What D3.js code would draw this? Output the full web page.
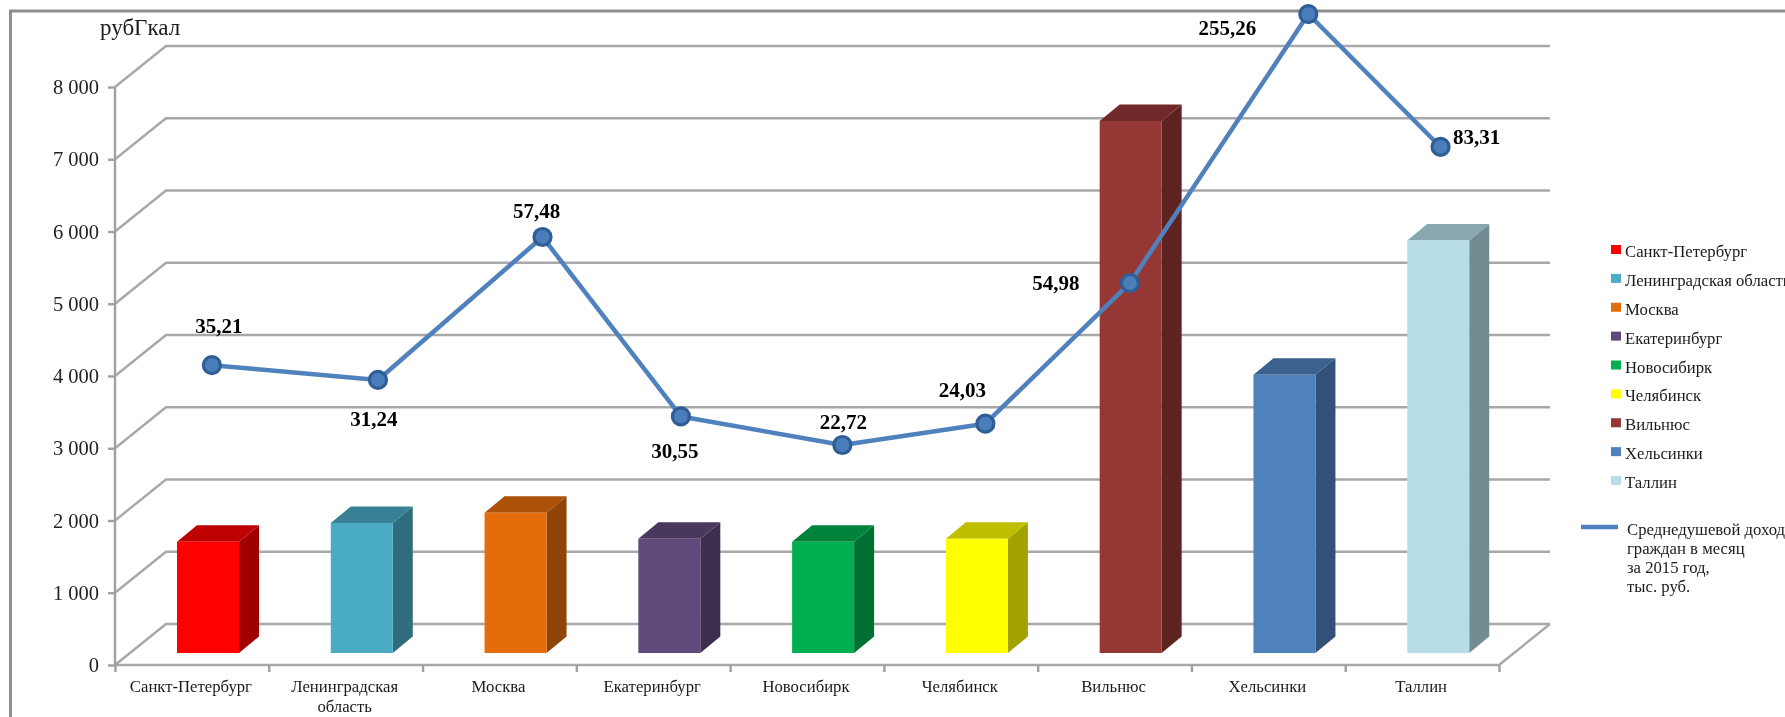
<!DOCTYPE html>
<html>
<head>
<meta charset="utf-8">
<script src="https://cdn.jsdelivr.net/npm/d3@7/dist/d3.min.js"></script>
<style>
html,body{margin:0;padding:0;background:#fff;overflow:hidden}
svg{display:block;font-family:"Liberation Serif",serif;filter:blur(0.6px)}
</style>
</head>
<body>
<div id="chart"></div>
<script>
// ---- data ----
const categories = ["Санкт-Петербург","Ленинградская область","Москва","Екатеринбург","Новосибирк","Челябинск","Вильнюс","Хельсинки","Таллин"];
const categoryLines = [["Санкт-Петербург"],["Ленинградская","область"],["Москва"],["Екатеринбург"],["Новосибирк"],["Челябинск"],["Вильнюс"],["Хельсинки"],["Таллин"]];
const tariffValues = [1540,1800,1940,1580,1540,1580,7365,3850,5710];
const incomeLabels = ["35,21","31,24","57,48","30,55","22,72","24,03","54,98","255,26","83,31"];
// the line in the source is hand-placed: its height in axis units and its position in category units
const incomeAxisLevels = [4150,3945,5924,3440,3045,3340,5287,9010,7170];
const incomeCategoryPos = [0.63,1.71,2.78,3.68,4.73,5.66,6.60,7.76,8.62];
const yTicks = [0,1000,2000,3000,4000,5000,6000,7000,8000];
const unitLabel = "рубГкал";
const lineLegend = ["Среднедушевой доход","граждан в месяц","за 2015 год,","тыс. руб."];
const barColors = ["#ff0000","#4bacc6","#e46c0a","#604a7b","#00b050","#ffff00","#953735","#4f81bd","#b7dee8"];

// ---- layout ----
const W = 1785, H = 717;
const frame = {x:10.5, y:11};
const plot = {left:115, right:1499, top:87, bottom:665};
const depth = {dx:51, dy:-41};
const bar = {dxStart:62, width:62, sideDx:20, sideDy:-16.5, floorLift:12};
const gridColor = "#a8a8a8", axisColor = "#a0a0a0", lineColor = "#4f81bd";
const labelOffsets = [[7,-39],[-4,39],[-6,-26],[-6,35],[1,-23],[-23,-34],[-74,0],[-81,14],[36,-10]];

const svg = d3.select("#chart").append("svg").attr("width",W).attr("height",H);

// frame
svg.append("path")
  .attr("d",`M${frame.x},${H+5}V${frame.y}H${W+5}`)
  .attr("fill","none").attr("stroke","#8e8e8e").attr("stroke-width",3);

// scales
const y = d3.scaleLinear().domain([0,8000]).range([plot.bottom,plot.top]);
const xPos = d3.scaleLinear().domain([0,categories.length]).range([plot.left,plot.right]);
const xBand = d3.scaleBand().domain(categories).range([plot.left,plot.right]);

// back wall grid with left wall diagonals
const grid = svg.append("g").attr("fill","none").attr("stroke",gridColor).attr("stroke-width",2.4);
grid.selectAll("path").data(yTicks).join("path")
  .attr("d",d=>`M${plot.left},${y(d)}L${plot.left+depth.dx},${y(d)+depth.dy}H${plot.right+depth.dx}`);
// floor front edge and right diagonal
grid.append("path")
  .attr("d",`M${plot.left},${plot.bottom}H${plot.right}L${plot.right+depth.dx},${plot.bottom+depth.dy}`);

// axes
const yAxis = d3.axisLeft(y).tickValues(yTicks).tickSize(7).tickPadding(9)
  .tickFormat(d=>d3.format(",")(d).replace(",", " "));
const gy = svg.append("g").attr("transform",`translate(${plot.left},0)`).call(yAxis);
gy.select(".domain").attr("stroke",axisColor).attr("stroke-width",2.4).attr("d",`M0,${plot.top}V${plot.bottom}`);
gy.selectAll("line").attr("stroke",axisColor).attr("stroke-width",2.4);
gy.selectAll("text").attr("font-family","Liberation Serif").attr("font-size",20.5).attr("fill","#222");

const xAxis = d3.axisBottom(xPos).ticks(categories.length).tickSize(7).tickFormat("");
const gx = svg.append("g").attr("transform",`translate(0,${plot.bottom})`).call(xAxis);
gx.select(".domain").remove();
gx.selectAll("line").attr("stroke",axisColor).attr("stroke-width",2.4);

// category labels
const catText = svg.append("g").attr("font-size",16.7).attr("fill","#1a1a1a").attr("text-anchor","middle")
  .selectAll("text").data(categories).join("text")
  .attr("transform",d=>`translate(${xBand(d)+xBand.bandwidth()/2-1},692)`);
catText.selectAll("tspan").data((d,i)=>categoryLines[i]).join("tspan")
  .attr("x",0).attr("dy",(d,i)=>i?20:0).text(d=>d);

// 3-D bars
const shade = (hex,k)=>{const c=d3.rgb(hex);return d3.rgb(c.r*k,c.g*k,c.b*k);};
const barBase = plot.bottom - bar.floorLift;
const barHeight = d=>y(0)-y(d);
const bars = svg.append("g").selectAll("g").data(tariffValues).join("g");
const bx = i=>xPos(i)+bar.dxStart;
bars.append("path")
  .attr("fill",(d,i)=>shade(barColors[i],.63))
  .attr("d",(d,i)=>{const x=bx(i)+bar.width,t=barBase-barHeight(d);
    return `M${x},${t}l${bar.sideDx},${bar.sideDy}V${barBase+bar.sideDy}L${x},${barBase}Z`;});
bars.append("path")
  .attr("fill",(d,i)=>shade(barColors[i],.75))
  .attr("d",(d,i)=>{const x=bx(i),t=barBase-barHeight(d);
    return `M${x},${t}l${bar.sideDx},${bar.sideDy}h${bar.width}l${-bar.sideDx},${-bar.sideDy}Z`;});
bars.append("rect").attr("x",(d,i)=>bx(i)).attr("width",bar.width)
  .attr("y",d=>barBase-barHeight(d)).attr("height",barHeight)
  .attr("fill",(d,i)=>barColors[i]);

// income line
const px = i=>xPos(incomeCategoryPos[i]);
const py = i=>y(incomeAxisLevels[i]);
const line = d3.line().x((d,i)=>px(i)).y(d=>y(d));
svg.append("path").datum(incomeAxisLevels).attr("d",line)
  .attr("fill","none").attr("stroke",lineColor).attr("stroke-width",4.5).attr("stroke-linejoin","round");
svg.append("g").selectAll("circle").data(incomeAxisLevels).join("circle")
  .attr("cx",(d,i)=>px(i)).attr("cy",d=>y(d)).attr("r",8.5)
  .attr("fill","#4a7ebb").attr("stroke","#2f5d96").attr("stroke-width",3.2);
svg.append("g").attr("font-size",21).attr("font-weight","bold").attr("fill","#000").attr("text-anchor","middle")
  .selectAll("text").data(incomeLabels).join("text")
  .attr("x",(d,i)=>px(i)+labelOffsets[i][0])
  .attr("y",(d,i)=>py(i)+labelOffsets[i][1]+7)
  .text(d=>d);

// unit label
svg.append("text").attr("x",100).attr("y",35).attr("font-size",23).attr("fill","#1a1a1a").text(unitLabel);

// legend
const legendY = d3.scalePoint().domain(categories).range([252,483]);
const lg = svg.append("g").attr("font-size",16.7).attr("fill","#1a1a1a");
const items = lg.selectAll("g").data(categories).join("g")
  .attr("transform",d=>`translate(1611,${legendY(d)})`);
items.append("rect").attr("y",-7).attr("width",10).attr("height",9).attr("fill",(d,i)=>barColors[i]);
items.append("text").attr("x",14).attr("y",5).text(d=>d);
lg.append("line").attr("x1",1581).attr("x2",1618).attr("y1",527).attr("y2",527)
  .attr("stroke",lineColor).attr("stroke-width",4.5);
lg.selectAll("text.ll").data(lineLegend).join("text").attr("class","ll")
  .attr("x",1627).attr("y",(d,i)=>535+i*19).text(d=>d);
</script>
</body>
</html>
